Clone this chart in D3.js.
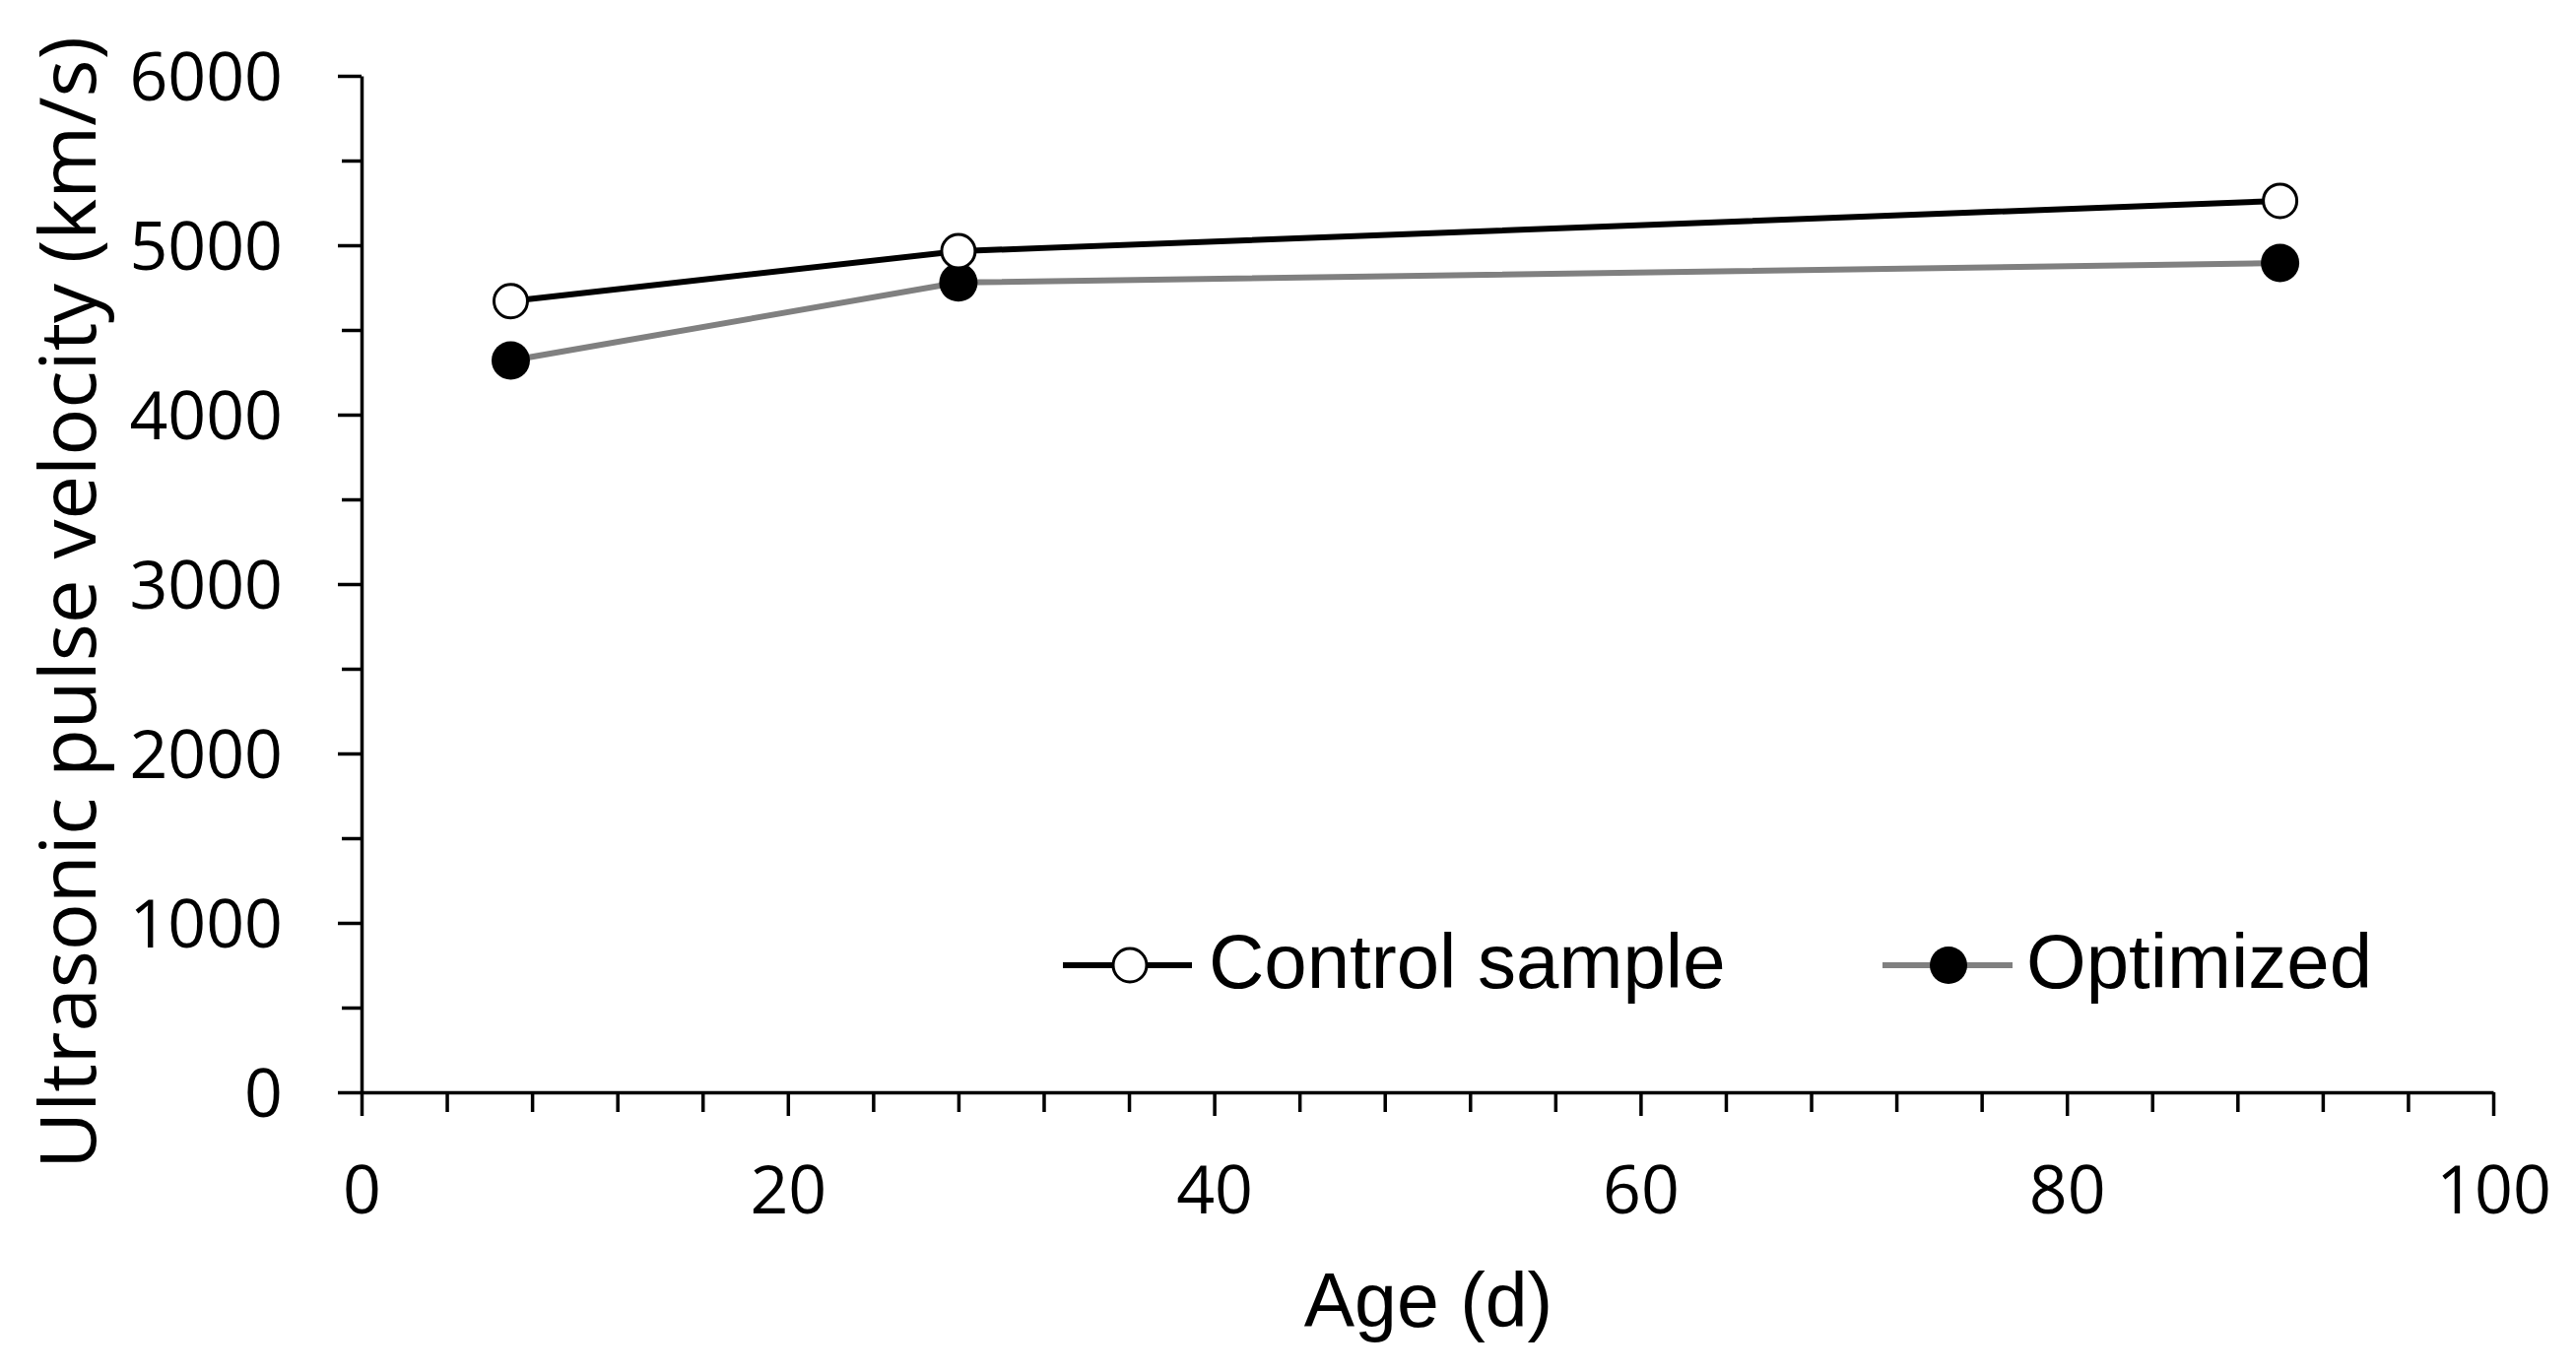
<!DOCTYPE html>
<html>
<head>
<meta charset="utf-8">
<script src="https://cdn.jsdelivr.net/npm/d3@7/dist/d3.min.js"></script>
<style>
  html, body { margin: 0; padding: 0; background: #fff; }
  svg { display: block; }
</style>
</head>
<body>
<svg id="chart" width="2615" height="1393"></svg>
<script>
// ---- data ----
const ages = [7, 28, 90];
const controlValues = [4670, 4965, 5262];
const optimizedValues = [4320, 4780, 4895];
const seriesNames = ["Control sample", "Optimized"];
const xTickValues = [0, 20, 40, 60, 80, 100];
const yTickValues = [0, 1000, 2000, 3000, 4000, 5000, 6000];
const xTitle = "Age (d)";
const yTitle = "Ultrasonic pulse velocity (km/s)";

const svg = d3.select("#chart");
svg.append("rect").attr("width", 2615).attr("height", 1393).attr("fill", "#fff");

const x = d3.scaleLinear().domain([0, 100]).range([367, 2531]);
const y = d3.scaleLinear().domain([0, 6000]).range([1109, 77]);

const tickFont = "'Open Sans', 'Noto Sans', sans-serif";
const arialFont = "'Liberation Sans', Arial, sans-serif";

// minor ticks
const xMinor = d3.range(0, 101, 4).filter(v => v % 20 !== 0);
const yMinor = d3.range(500, 6000, 1000);

svg.append("g")
  .attr("transform", `translate(0,${y(0)})`)
  .call(d3.axisBottom(x).tickValues(xMinor).tickSize(20).tickSizeOuter(0).tickFormat(""))
  .call(g => g.select(".domain").remove())
  .call(g => g.selectAll("line").attr("stroke", "#000").attr("stroke-width", 3.5));

svg.append("g")
  .attr("transform", `translate(${x(0)},0)`)
  .call(d3.axisLeft(y).tickValues(yMinor).tickSize(20).tickSizeOuter(0).tickFormat(""))
  .call(g => g.select(".domain").remove())
  .call(g => g.selectAll("line").attr("stroke", "#000").attr("stroke-width", 3.5));

// major axes
const xAxis = svg.append("g")
  .attr("transform", `translate(0,${y(0)})`)
  .call(d3.axisBottom(x).tickValues(xTickValues).tickSize(24).tickSizeOuter(0).tickPadding(51).tickFormat(d3.format("d")));
xAxis.select(".domain").attr("stroke", "#000").attr("stroke-width", 3.5);
xAxis.selectAll("line").attr("stroke", "#000").attr("stroke-width", 3.5);
xAxis.selectAll("text").attr("font-family", tickFont).attr("font-size", 68).attr("fill", "#000");

const yAxis = svg.append("g")
  .attr("transform", `translate(${x(0)},0)`)
  .call(d3.axisLeft(y).tickValues(yTickValues).tickSize(24).tickSizeOuter(0).tickPadding(56).tickFormat(d3.format("d")));
yAxis.select(".domain").attr("stroke", "#000").attr("stroke-width", 3.5);
yAxis.selectAll("line").attr("stroke", "#000").attr("stroke-width", 3.5);
yAxis.selectAll("text").attr("font-family", tickFont).attr("font-size", 68).attr("fill", "#000").attr("dy", "0.36em");

// titles
svg.append("text")
  .attr("x", 1450).attr("y", 1347)
  .attr("text-anchor", "middle")
  .attr("font-family", arialFont).attr("font-size", 77).attr("fill", "#000")
  .text(xTitle);

svg.append("text")
  .attr("transform", "translate(97,612) rotate(-90)")
  .attr("text-anchor", "middle")
  .attr("font-family", tickFont).attr("font-size", 79).attr("fill", "#000")
  .attr("textLength", 1150).attr("lengthAdjust", "spacingAndGlyphs")
  .text(yTitle);

// lines
const line = d3.line().x(d => x(d[0])).y(d => y(d[1]));
const controlData = ages.map((a, i) => [a, controlValues[i]]);
const optData = ages.map((a, i) => [a, optimizedValues[i]]);

svg.append("path").datum(optData).attr("d", line)
  .attr("fill", "none").attr("stroke", "#808080").attr("stroke-width", 6);
svg.append("path").datum(controlData).attr("d", line)
  .attr("fill", "none").attr("stroke", "#000").attr("stroke-width", 6);

svg.selectAll(".opt").data(optData).enter().append("circle")
  .attr("cx", d => x(d[0])).attr("cy", d => y(d[1])).attr("r", 19.5)
  .attr("fill", "#000");
svg.selectAll(".ctl").data(controlData).enter().append("circle")
  .attr("cx", d => x(d[0])).attr("cy", d => y(d[1])).attr("r", 17)
  .attr("fill", "#fff").attr("stroke", "#000").attr("stroke-width", 3);

// legend
const legend = [
  { name: seriesNames[0], x1: 1079, x2: 1210, cx: 1147, tx: 1227, stroke: "#000", sw: 6, fill: "#fff", r: 17 },
  { name: seriesNames[1], x1: 1911, x2: 2043, cx: 1978, tx: 2057, stroke: "#808080", sw: 6, fill: "#000", r: 19 }
];
const lg = svg.append("g");
legend.forEach(l => {
  lg.append("line").attr("x1", l.x1).attr("x2", l.x2).attr("y1", 980).attr("y2", 980)
    .attr("stroke", l.stroke).attr("stroke-width", l.sw);
  const c = lg.append("circle").attr("cx", l.cx).attr("cy", 980).attr("r", l.r).attr("fill", l.fill);
  if (l.fill === "#fff") c.attr("stroke", "#000").attr("stroke-width", 3);
  lg.append("text").attr("x", l.tx).attr("y", 1003)
    .attr("font-family", arialFont).attr("font-size", 78).attr("fill", "#000")
    .text(l.name);
});
</script>
</body>
</html>
